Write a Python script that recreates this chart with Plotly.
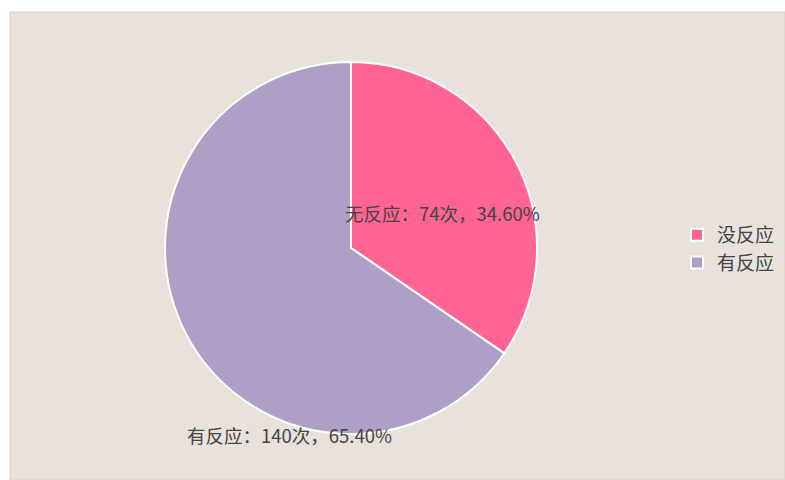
import plotly.graph_objects as go

legend_names = ["没反应", "有反应"]
slice_names = ["无反应", "有反应"]
counts = [74, 140]
percents = ["34.60%", "65.40%"]
colors = ["#FF6492", "#AE9FC7"]

FONT = "Noto Sans CJK SC, Microsoft YaHei, sans-serif"

fig = go.Figure()
fig.add_trace(go.Pie(
    labels=legend_names,
    values=counts,
    sort=False,
    direction="clockwise",
    rotation=0,
    textinfo="none",
    hoverinfo="label+value+percent",
    marker=dict(colors=colors, line=dict(color="white", width=2)),
    domain=dict(x=[165/785, 537/785], y=[46/480, 418/480]),
))

label_pos = [(343/785, 1-213/480), (185/785, 1-435/480)]
for i, (x, y) in enumerate(label_pos):
    fig.add_annotation(
        x=x, y=y, xref="paper", yref="paper", xanchor="left", yanchor="middle",
        text=f"{slice_names[i]}：{counts[i]}次，{percents[i]}",
        showarrow=False, font=dict(family=FONT, size=18.5, color="#444444"),
    )

fig.add_shape(type="rect", xref="paper", yref="paper",
              x0=10/785, x1=1, y0=0, y1=1-12/480,
              fillcolor="#E8E2DA", line=dict(color="#D6D0C8", width=1),
              layer="below")

fig.update_layout(
    width=785, height=480,
    margin=dict(l=0, r=0, t=0, b=0),
    paper_bgcolor="white",
    plot_bgcolor="rgba(0,0,0,0)",
    font=dict(family=FONT, size=16, color="#444444"),
    showlegend=True,
    legend=dict(x=677/785, y=1-249/480, xanchor="left", yanchor="middle",
                bgcolor="rgba(0,0,0,0)", font=dict(family=FONT, size=19, color="#444444"),
                itemwidth=30, tracegroupgap=0),
)

fig.write_html("out.html", config={"displayModeBar": False},
               post_script="document.body.style.margin='0px';")
